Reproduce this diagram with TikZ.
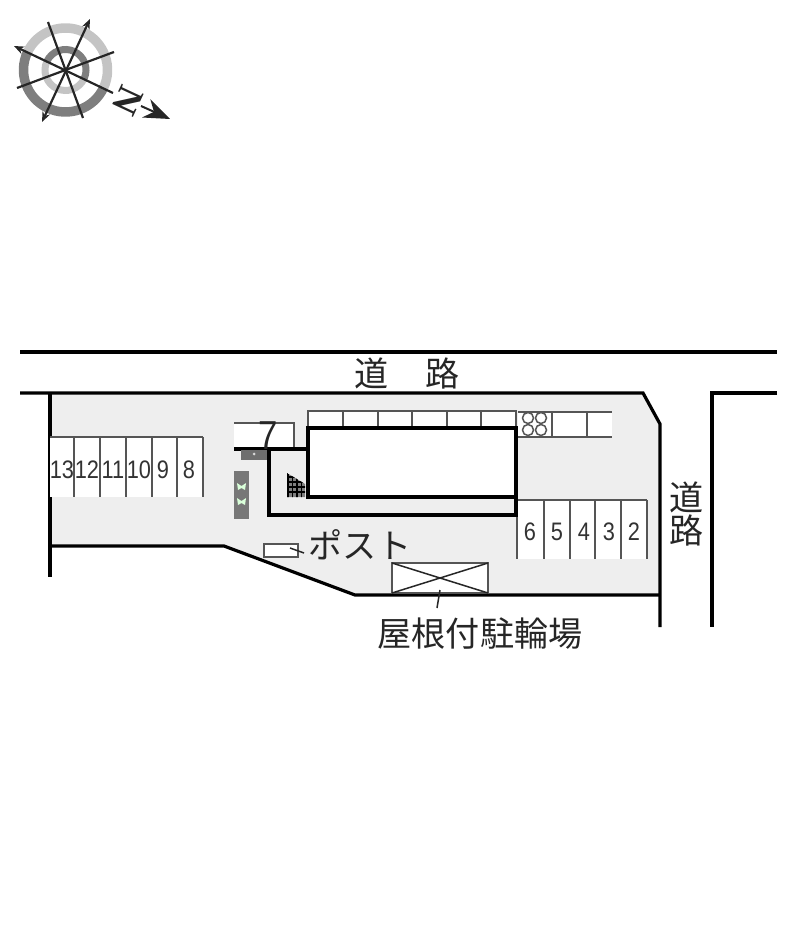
\documentclass[tikz,border=0pt]{standalone}
\usepackage{fontspec}
\setmainfont{Liberation Sans}
\newfontfamily\cjk{Noto Sans CJK JP}
\newfontfamily\numfont[FakeStretch=0.86]{Liberation Sans}
\newfontfamily\northfont{Liberation Serif}
\usetikzlibrary{arrows.meta}
\definecolor{lotgray}{HTML}{EEEEEE}
\definecolor{ringlight}{HTML}{C4C4C4}
\definecolor{ringdark}{HTML}{7E7E7E}
\definecolor{linegray}{HTML}{555555}
\tikzset{
  wall/.style={line width=0.032cm, black},
  thinwall/.style={line width=0.028cm, linegray},
  compass/.style={line width=0.022cm, black!85},
  slotnum/.style={font=\numfont\fontsize{7.2pt}{8pt}\selectfont, text=black!80, inner sep=0pt},
  jplabel/.style={font=\cjk\fontsize{9.7pt}{10pt}\selectfont, text=black!85, inner sep=0pt},
}

\begin{document}
\begin{tikzpicture}[x=0.01cm, y=-0.01cm]
\useasboundingbox (0,0) rectangle (800,940);

% compass
\coordinate (center) at (65.5,70);
\begin{scope}[shift={(center)}]
\draw[ringlight, line width=0.095cm] (25:42) arc (25:-155:42);
\draw[ringdark, line width=0.095cm] (205:42) arc (205:25:42);
\draw[ringdark, line width=0.07cm] (25:20.5) arc (25:-155:20.5);
\draw[ringlight, line width=0.07cm] (205:20.5) arc (205:25:20.5);
\end{scope}
\coordinate (needleE) at (113,93);
\coordinate (needleW) at (14,46);
\coordinate (needleS) at (42,122);
\coordinate (needleN) at (90,19);
\coordinate (needleA) at (48,22);
\coordinate (needleB) at (83,118);
\coordinate (needleC) at (17,88);
\coordinate (needleD) at (114,52);
\draw[compass, -{Stealth[length=0.1cm,width=0.08cm]}] (needleE) -- (needleW);
\draw[compass, {Stealth[length=0.1cm,width=0.08cm]}-{Stealth[length=0.1cm,width=0.08cm]}] (needleS) -- (needleN);
\draw[compass] (needleA) -- (needleB);
\draw[compass] (needleC) -- (needleD);
\node[rotate=-115, inner sep=0pt, text=black!85, font=\northfont\bfseries\fontsize{10.5pt}{10.5pt}\selectfont] (northsign) at (128,101) {N};
\coordinate (northtail) at (141,106);
\coordinate (northtip) at (170,119);
\draw[line width=0.02cm, black!85, -{Stealth[length=0.26cm,width=0.2cm]}] (northtail) -- (northtip);

% lot
\fill[lotgray] (50,393) -- (643,393) -- (660,424) -- (660,595) -- (355,595) -- (224,546) -- (50,546) -- cycle;

% roads
\draw[wall] (20,352) -- (777,352);
\draw[wall] (20,393) -- (643,393) -- (660,424) -- (660,627);
\draw[wall] (777,393) -- (712,393) -- (712,627);
\draw[wall] (50,393) -- (50,577);
\draw[wall] (50,546) -- (224,546) -- (355,595) -- (660,595);

% parking left
\fill[white] (50,437) rectangle (203,497);
\draw[thinwall] (50,437) -- (203,437);
\foreach \x in {74,100,126,152,177,203}
  \draw[thinwall] (\x,437) -- (\x,497);
\foreach \x/\n in {62/13,87/12,113/11,139/10,163/9,189/8}
  \node[slotnum] (slot\n) at (\x,470) {\n};

% parking right
\fill[white] (517,500) rectangle (647,559);
\draw[thinwall] (517,500) -- (647,500);
\foreach \x in {517,544,570,595,621,647}
  \draw[thinwall] (\x,500) -- (\x,559);
\foreach \x/\n in {530/6,557/5,584/4,609/3,634/2}
  \node[slotnum] (slot\n) at (\x,532) {\n};

% bicycle row
\fill[white] (518,412) rectangle (612,437);
\draw[thinwall] (518,412) -- (612,412);
\draw[thinwall] (518,437) -- (612,437);
\foreach \x in {552,587}
  \draw[thinwall] (\x,412) -- (\x,437);
\foreach \x in {528,541}
  \foreach \y in {418,430}
    \draw[linegray, line width=0.015cm] (\x,\y) circle (5.5);

% entrance
\fill[white] (234,423) rectangle (294,449);
\draw[thinwall] (234,423) -- (294,423) -- (294,450);
\draw[wall] (234,449) -- (308,449);
\node[font=\numfont\fontsize{11.5pt}{12pt}\selectfont, text=black!85, inner sep=0pt] (slot7) at (268,436) {7};
\fill[linegray!85] (241,450) rectangle (267,460);
\fill[white!70!gray] (254,454) circle (1.5);
\fill[linegray!80] (234,471) rectangle (249,519);
\foreach \y in {487,502} {
  \fill[green!15!white] (237,\y-4) -- (241.5,\y-1) -- (246,\y-4) -- (245,\y+3) -- (241.5,\y+1) -- (238,\y+3) -- cycle;
}
\draw[wall] (269,449) -- (269,515) -- (516,515) -- (516,497);

% stairs
\begin{scope}
\clip (287,473) -- (305,484) -- (305,497) -- (287,497) -- cycle;
\fill[gray] (285,470) rectangle (307,499);
\foreach \x in {288,292.5,297,301.5}
  \draw[black, line width=0.018cm] (\x,470) -- (\x,499);
\foreach \y in {477,482,487,492}
  \draw[black, line width=0.018cm] (285,\y) -- (307,\y);
\end{scope}

% building
\draw[thinwall, fill=white] (308,411) rectangle (516,428);
\foreach \x in {343,378,412,447,481}
  \draw[thinwall] (\x,411) -- (\x,428);
\draw[line width=0.045cm, black, fill=white] (308,428) rectangle (516,497);

% post
\draw[thinwall, fill=white] (264,544) rectangle (298,557);
\node[jplabel] (postlabel) at (360,545) {ポスト};
\coordinate (postmark) at (290,548);
\coordinate (postend) at (304,553);
\draw[line width=0.015cm, black!85] (postmark) -- (postend);

% bicycle shelter
\draw[thinwall, fill=white] (392,563) rectangle (488,593);
\draw[line width=0.015cm, black!85] (392,563) -- (488,593);
\draw[line width=0.015cm, black!85] (392,593) -- (488,563);
\coordinate (shelter) at (440,590);
\node[jplabel] (shelterlabel) at (480,634) {屋根付駐輪場};
\coordinate (shelterend) at (437,608);
\draw[line width=0.015cm, black!85] (shelter) -- (shelterend);

% road labels
\node[jplabel] (roadA) at (372,373) {道};
\node[jplabel] (roadB) at (443,373) {路};
\node[jplabel] (roadC) at (687,497) {道};
\node[jplabel] (roadD) at (687,530) {路};
\end{tikzpicture}
\end{document}
